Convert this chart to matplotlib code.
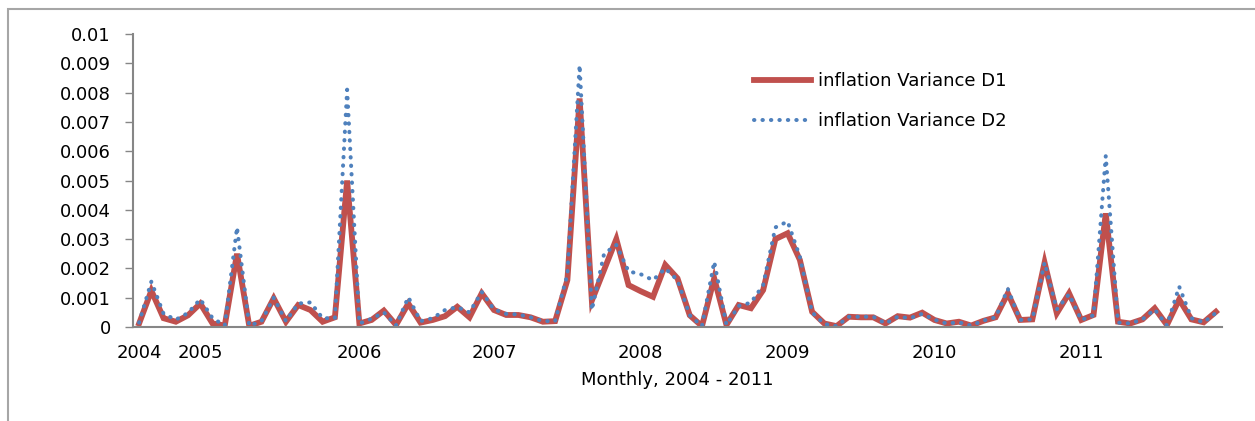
import numpy as np
import matplotlib
matplotlib.use("Agg")
import matplotlib.pyplot as plt
from matplotlib.patches import Rectangle

D1 = [0.00012, 0.00124, 0.0003, 0.00018, 0.0004, 0.0008, 0.00012, 0.00005, 0.0025, 0.00004,
      0.00018, 0.00098, 0.00018, 0.00075, 0.00058, 0.00018, 0.00033, 0.005, 0.00012, 0.00024,
      0.00056, 0.00007, 0.0008, 0.00015, 0.00024, 0.00037, 0.00069, 0.00033, 0.00115, 0.00058,
      0.00041, 0.00041, 0.00033, 0.00018, 0.0002, 0.0016, 0.0078, 0.0009, 0.00195, 0.003,
      0.00143, 0.00122, 0.00103, 0.00212, 0.00166, 0.0004, 0.00003, 0.00166, 0.00007, 0.00075,
      0.00064, 0.00126, 0.003, 0.0032, 0.00229, 0.00052, 0.00012, 0.00003, 0.00035, 0.00033,
      0.00033, 0.00012, 0.00037, 0.00032, 0.00049, 0.00024, 0.00012, 0.00018, 0.00005, 0.00021,
      0.00033, 0.00115, 0.00024, 0.00026, 0.0022, 0.00047, 0.00115, 0.00024, 0.00041, 0.00388,
      0.00018, 0.00012, 0.00026, 0.00064, 0.00007, 0.00094, 0.00026, 0.00016, 0.00052]
D2 = [0.00015, 0.00155, 0.00045, 0.00025, 0.00048, 0.00095, 0.0003, 0.00005, 0.0034, 0.00004,
      0.0002, 0.001, 0.0002, 0.0008, 0.00084, 0.0003, 0.0003, 0.0081, 0.00012, 0.00028,
      0.0005, 0.00005, 0.00102, 0.0002, 0.0003, 0.00058, 0.00068, 0.0005, 0.0012, 0.0006,
      0.00045, 0.00043, 0.00033, 0.0002, 0.0002, 0.0018, 0.00894, 0.00058, 0.0025, 0.0028,
      0.0019, 0.0018, 0.0016, 0.002, 0.0016, 0.0004, 0.00003, 0.00223, 0.00007, 0.00072,
      0.00083, 0.00143, 0.0034, 0.0036, 0.0024, 0.0005, 0.0001, 0.00003, 0.00035, 0.00035,
      0.00035, 0.00012, 0.00035, 0.0003, 0.00045, 0.00025, 0.00012, 0.00016, 0.00005, 0.00022,
      0.00033, 0.0013, 0.00024, 0.00026, 0.0022, 0.0006, 0.00112, 0.00024, 0.0004, 0.00584,
      0.00015, 0.00012, 0.00026, 0.0006, 0.00005, 0.00138, 0.0003, 0.00016, 0.00048]
YEAR_POS = [0, 5, 18, 29, 41, 53, 65, 77]
YEAR_LABELS = ["2004", "2005", "2006", "2007", "2008", "2009", "2010", "2011"]
YTICKS = [0, 0.001, 0.002, 0.003, 0.004, 0.005, 0.006, 0.007, 0.008, 0.009, 0.01]

RED, BLUE, GREY = "#C0504D", "#4F81BD", "#868686"
plt.rcParams["font.family"] = ["DejaVu Sans"]
FS = 13

W, H = 1255, 421
fig = plt.figure(figsize=(W / 100, H / 100), dpi=100)
ax = fig.add_axes([133 / W, 1 - 327 / H, (1222 - 133) / W, (327 - 34) / H])

x = np.arange(len(D1))
ax.plot(x, D1, color=RED, lw=4.2, solid_joinstyle="miter", label="inflation Variance D1")
ax.plot(x, D2, color=BLUE, lw=2.9, ls=(0, (0.1, 2.0)), dash_capstyle="round",
        label="inflation Variance D2")

ax.set_xlim(-0.5, len(D1) - 0.5)
ax.set_ylim(0, 0.01)
ax.set_yticks(YTICKS)
ax.set_yticklabels(["0" if v == 0 else f"{v:g}" for v in YTICKS])
ax.set_xticks(YEAR_POS)
ax.set_xticklabels(YEAR_LABELS)
ax.tick_params(axis="y", length=6, width=1, color=GREY, pad=10, labelsize=FS)
ax.tick_params(axis="x", length=0, pad=12, labelsize=FS)
for s in ("top", "right"):
    ax.spines[s].set_visible(False)
for s in ("left", "bottom"):
    ax.spines[s].set_color(GREY)
    ax.spines[s].set_linewidth(1.5)
ax.set_xlabel("Monthly, 2004 - 2011", fontsize=FS, labelpad=7)

ax.legend(loc="upper left", bbox_to_anchor=(0.555, 0.925), frameon=False, fontsize=FS,
          handlelength=3.2, labelspacing=1.2, handletextpad=0.35)

# outer chart border
fig.patches.append(Rectangle((8 / W, -0.05), 1.1, 1 - 9 / H + 0.05, transform=fig.transFigure,
                             fill=False, ec="#A6A6A6", lw=1.5))

fig.savefig("out.png", dpi=100)
